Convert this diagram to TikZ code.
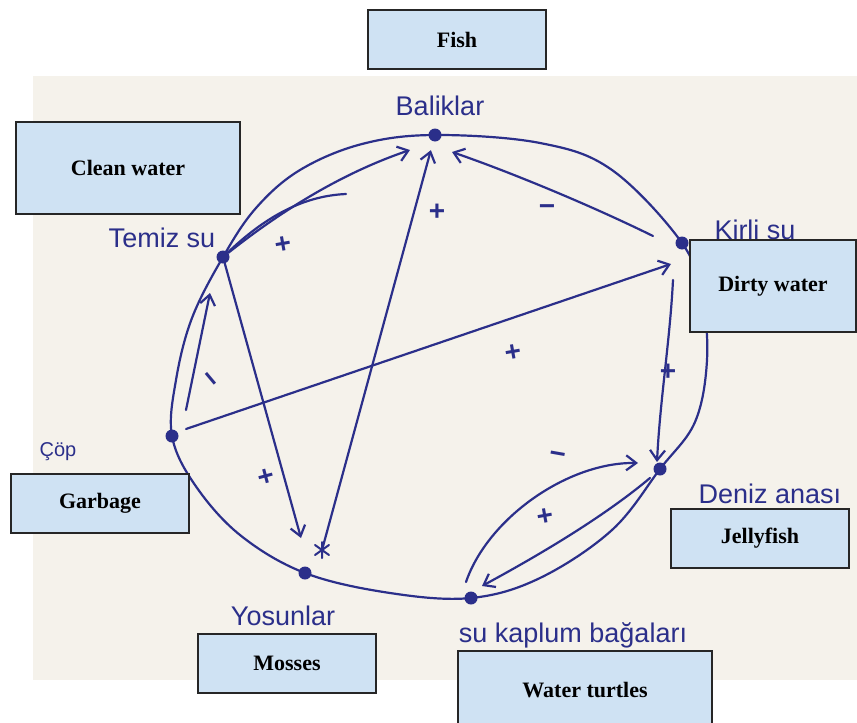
\documentclass[tikz,border=0pt]{standalone}
\usepackage{fontspec}
\setmainfont{Liberation Serif}
\newfontfamily\handfont{Liberation Sans}
\usetikzlibrary{arrows.meta}
\definecolor{ink}{HTML}{2B2F8A}
\definecolor{paper}{HTML}{F5F2EB}
\definecolor{boxblue}{HTML}{CFE2F3}
\begin{document}
\begin{tikzpicture}[x=1pt,y=-1pt,
  inkline/.style={draw=ink, line width=2.2pt, line cap=round, line join=round},
  arr/.style={inkline, -{Straight Barb[length=10pt,width=15pt,line width=2.2pt]}},
  dot/.style={circle, fill=ink, inner sep=0pt, minimum size=13pt},
  hand/.style={text=ink, font=\handfont\fontsize{27}{30}\selectfont, inner sep=0pt},
  sign/.style={text=ink, font=\handfont\bfseries\fontsize{28}{30}\selectfont, inner sep=0pt},
  lbox/.style={draw=black!85, line width=1.5pt, fill=boxblue, font=\bfseries\fontsize{22}{24}\selectfont, inner sep=0pt}
]
\useasboundingbox[fill=white] (0,0) rectangle (857,723);
\fill[paper] (33,76) rectangle (857,680);

% dots
\node[dot] (bal) at (435,135) {};
\node[dot] (tem) at (223,257) {};
\node[dot] (kir) at (682,243) {};
\node[dot] (cop) at (172,436) {};
\node[dot] (den) at (660,469) {};
\node[dot] (kap) at (471,598) {};
\node[dot] (yos) at (305,573) {};

% the loop
\draw[inkline] plot[smooth cycle, tension=0.6] coordinates {(bal.center) (540,143) (612,170) (kir.center) (702,298) (707,360) (695,422) (den.center) (612,530) (540,578) (kap.center) (390,593) (yos.center) (240,535) (195,485) (cop.center) (176,380) (192,318) (tem.center) (256,208) (300,170) (362,144)};

% connectors
\coordinate (bt) at (410,150);
\draw[arr] (tem) .. controls (285,208) and (345,172) .. (bt);
\coordinate (cend) at (346,194);
\draw[inkline] (tem) .. controls (262,220) and (300,196) .. (cend);

\coordinate (ks) at (653,236);
\coordinate (kt) at (452,152);
\draw[arr] (ks) .. controls (590,205) and (510,172) .. (kt);

\coordinate (star) at (322,550);
\draw[arr, shorten >=9pt] (star) -- (bal);
\draw[inkline, line width=2pt] (star) +(-7,-5) -- +(7,5) +(-7,5) -- +(7,-5) +(0,-8) -- +(0,8);

\coordinate (yt) at (301,538);
\draw[arr] (tem) -- (yt);

\coordinate (cs) at (186,410);
\coordinate (ct) at (210,293);
\draw[arr] (cs) -- (ct);

\coordinate (cs2) at (186,429);
\coordinate (kt2) at (671,264);
\draw[arr] (cs2) -- (kt2);

\coordinate (ks2) at (673,280);
\coordinate (dt) at (657,462);
\draw[arr] (ks2) .. controls (670,340) and (660,400) .. (dt);

\coordinate (kt3) at (466,582);
\coordinate (dt3) at (638,463);
\draw[arr] (kt3) .. controls (488,518) and (568,462) .. (dt3);
\coordinate (ds) at (650,478);
\coordinate (kt4) at (482,586);
\draw[arr] (ds) .. controls (600,520) and (530,560) .. (kt4);

% signs
\node[sign, rotate=10] (s1) at (283,245) {+};
\node[sign] (s2) at (437,212) {+};
\node[sign, rotate=10] (s3) at (513,353) {+};
\node[sign] (s4) at (668,372) {+};
\node[sign, rotate=10] (s5) at (545,517) {+};
\node[sign, rotate=15] (s6) at (266,477) {+};
\node[sign] (m1) at (547,210) {−};
\node[sign, rotate=-50] (m2) at (208,381) {−};
\node[sign, rotate=-10] (m3) at (557,458) {−};

% handwritten labels
\node[hand] (lbal) at (440,106) {Baliklar};
\node[hand] (ltem) at (162,238) {Temiz su};
\node[hand] (lkir) at (755,230) {Kirli su};
\node[hand, font=\handfont\fontsize{20}{22}\selectfont] (lcop) at (58,452) {Çöp};
\node[hand] (lden) at (770,494) {Deniz anası};
\node[hand] (lyos) at (283,616) {Yosunlar};
\node[hand] (lkap) at (573,635) {su kaplum bağaları};

% boxes
\node[lbox, minimum width=178pt, minimum height=59pt] (fish) at (457,39.5) {Fish};
\node[lbox, minimum width=224pt, minimum height=92pt] (clean) at (128,168) {Clean water};
\node[lbox, minimum width=166pt, minimum height=92pt] (dirty) at (773,286) {Dirty water};
\node[lbox, minimum width=178pt, minimum height=59pt] (garbage) at (100,503.5) {Garbage};
\node[lbox, minimum width=178pt, minimum height=59pt] (jelly) at (760,538.5) {Jellyfish};
\node[lbox, minimum width=178pt, minimum height=59pt] (mosses) at (287,663.5) {Mosses};
\node[lbox, minimum width=254pt, minimum height=79pt] (turtles) at (585,690.5) {Water turtles};
\end{tikzpicture}
\end{document}
